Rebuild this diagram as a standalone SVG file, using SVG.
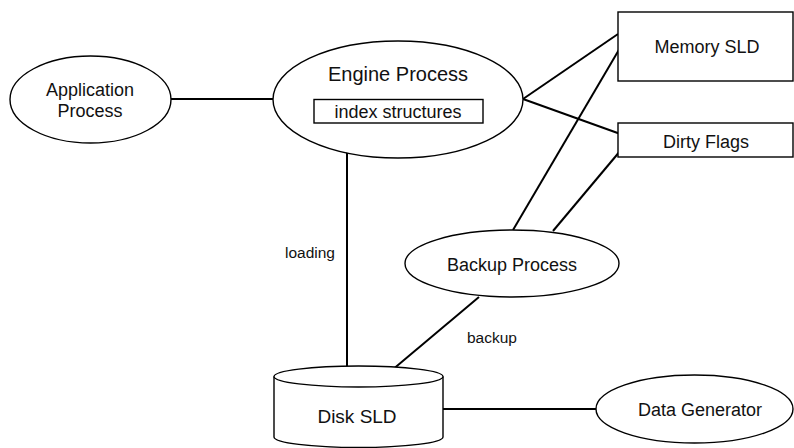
<svg xmlns="http://www.w3.org/2000/svg" width="794" height="448" viewBox="0 0 794 448">
<style>
.shape{fill:#fff;stroke:#000;stroke-width:1.4}
.conn{stroke:#000;stroke-width:2;fill:none}
text{font-family:"Liberation Sans",Arial,sans-serif;fill:#111;text-anchor:middle}
.n{font-size:18px}
.l{font-size:15.5px}
</style>
<rect width="794" height="448" fill="#fff"/>
<g id="connectors">
<line class="conn" x1="171" y1="99" x2="273" y2="99"/>
<line class="conn" x1="523" y1="99" x2="618" y2="34"/>
<line class="conn" x1="523" y1="99" x2="626" y2="136"/>
<line class="conn" x1="513" y1="230" x2="620" y2="48"/>
<line class="conn" x1="553" y1="231" x2="626" y2="144"/>
<line class="conn" x1="347" y1="151" x2="347" y2="376"/>
<line class="conn" x1="479" y1="297" x2="385" y2="376"/>
<line class="conn" x1="443" y1="409" x2="596" y2="409"/>
<text class="l" x="310" y="258">loading</text>
<text class="l" x="492" y="343">backup</text>
</g>
<g id="app">
<ellipse class="shape" cx="90.5" cy="99.5" rx="80.5" ry="43.5"/>
<text class="n" x="90" y="96">Application</text>
<text class="n" x="90" y="117">Process</text>
</g>
<g id="engine">
<ellipse class="shape" cx="398" cy="99.5" rx="125" ry="58.5"/>
<text x="398" y="81" style="font-size:20px">Engine Process</text>
<rect class="shape" x="314" y="99.5" width="169" height="23.5"/>
<text x="398" y="118" style="font-size:18px">index structures</text>
</g>
<g id="memory">
<rect class="shape" x="618" y="12" width="175" height="69"/>
<text class="n" x="707" y="53">Memory SLD</text>
</g>
<g id="dirty">
<rect class="shape" x="618" y="123" width="175" height="34"/>
<text class="n" x="706" y="148">Dirty Flags</text>
</g>
<g id="backup">
<ellipse class="shape" cx="512" cy="263.5" rx="107" ry="33.5"/>
<text class="n" x="512" y="271">Backup Process</text>
</g>
<g id="disk">
<path class="shape" d="M274,376.5 L274,437 A84.5,10.5 0 0 0 443,437 L443,376.5"/>
<ellipse class="shape" cx="358.5" cy="376.5" rx="84.5" ry="10.5"/>
<text x="357" y="423" style="font-size:19px">Disk SLD</text>
</g>
<g id="datagen">
<ellipse class="shape" cx="694.5" cy="409" rx="98.5" ry="34"/>
<text class="n" x="700" y="416">Data Generator</text>
</g>
</svg>
